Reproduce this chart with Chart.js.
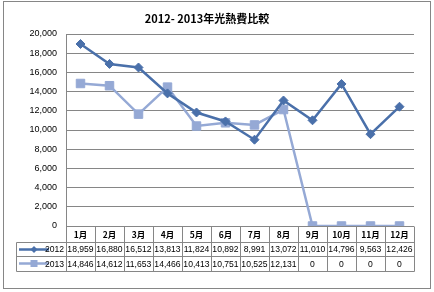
<!DOCTYPE html>
<html>
<head>
<meta charset="utf-8">
<script src="https://cdn.jsdelivr.net/npm/chart.js@4"></script>
<style>
html,body{margin:0;padding:0;background:#fff;}
#wrap{width:434px;height:292px;position:relative;}
</style>
</head>
<body>
<div id="wrap"><canvas id="c" width="434" height="292"></canvas></div>
<script>
const months = ['1月','2月','3月','4月','5月','6月','7月','8月','9月','10月','11月','12月'];
const series2012 = [18959,16880,16512,13813,11824,10892,8991,13072,11010,14796,9563,12426];
const series2013 = [14846,14612,11653,14466,10413,10751,10525,12131,0,0,0,0];
const seriesNames = ['2012','2013'];
const titleText = '2012- 2013年光熱費比較';

const GRID = '#868686';
const C2012 = '#4A70AA';
const C2013 = '#95A9D5';
const numFont = '8.6px "Liberation Sans Narrow", "Liberation Sans", sans-serif';

const tablePlugin = {
  id: 'dataTable',
  afterDraw(chart) {
    const ctx = chart.ctx;
    const ca = chart.chartArea;
    const xs = chart.scales.x;
    const n = months.length;
    const colW = ca.width / n;
    const left = ca.left, right = ca.right;
    const yTop = Math.round(ca.bottom) + 0.5;
    const yH = yTop + 15;
    const yR1 = yH + 14.5;
    const yR2 = yR1 + 14.5;
    const legL = 16.5;
    ctx.save();
    ctx.strokeStyle = GRID;
    ctx.lineWidth = 1;
    ctx.beginPath();
    [yH, yR1, yR2].forEach(y => { ctx.moveTo(legL, Math.round(y)+0.5); ctx.lineTo(right+0.5, Math.round(y)+0.5); });
    for (let i = 0; i <= n; i++) {
      const x = Math.round(left + i * colW) + 0.5;
      ctx.moveTo(x, yTop); ctx.lineTo(x, Math.round(yR2)+0.5);
    }
    ctx.moveTo(legL, Math.round(yH)+0.5); ctx.lineTo(legL, Math.round(yR2)+0.5);
    ctx.stroke();

    ctx.fillStyle = '#000';
    ctx.textAlign = 'center';
    ctx.textBaseline = 'middle';
    ctx.font = 'bold 8.5px "Noto Sans CJK JP", sans-serif';
    months.forEach((m, i) => ctx.fillText(m, xs.getPixelForValue(i), (yTop + yH) / 2 + 0.5));
    ctx.font = numFont;
    const rows = [series2012, series2013];
    const rowY = [(yH + yR1) / 2 + 1, (yR1 + yR2) / 2 + 1];
    rows.forEach((arr, r) => {
      arr.forEach((v, i) => ctx.fillText(v.toLocaleString('en-US'), xs.getPixelForValue(i), rowY[r]));
    });
    // legend keys
    const cols = [C2012, C2013];
    rows.forEach((arr, r) => {
      const y = Math.round(rowY[r] - 1) + 0.5;
      ctx.strokeStyle = cols[r];
      ctx.lineWidth = 2.5;
      ctx.beginPath(); ctx.moveTo(19, y); ctx.lineTo(49, y); ctx.stroke();
      ctx.fillStyle = cols[r];
      ctx.beginPath();
      if (r === 0) { ctx.moveTo(34, y - 3.5); ctx.lineTo(37.5, y); ctx.lineTo(34, y + 3.5); ctx.lineTo(30.5, y); ctx.closePath(); }
      else { ctx.rect(30.5, y - 3.5, 7, 7); }
      ctx.fill();
      ctx.fillStyle = '#000';
      ctx.textAlign = 'right';
      ctx.fillText(seriesNames[r], 64, rowY[r]);
      ctx.textAlign = 'center';
    });
    // outer border
    ctx.strokeStyle = GRID;
    ctx.lineWidth = 1;
    ctx.strokeRect(3.5, 1.5, 427, 287);
    ctx.restore();
  }
};

new Chart(document.getElementById('c'), {
  type: 'line',
  data: {
    labels: months,
    datasets: [
      { label: seriesNames[0], data: series2012, borderColor: C2012, backgroundColor: C2012, borderWidth: 2.5,
        pointStyle: 'rectRot', pointRadius: 4.5, pointBorderWidth: 1, tension: 0 },
      { label: seriesNames[1], data: series2013, borderColor: C2013, backgroundColor: C2013, borderWidth: 2.5,
        pointStyle: 'rect', pointRadius: 6, pointBorderWidth: 1, tension: 0 }
    ]
  },
  options: {
    responsive: false,
    animation: false,
    layout: { padding: { left: 0, right: 20, top: 0, bottom: 0 } },
    plugins: {
      legend: { display: false },
      tooltip: { enabled: false },
      title: { display: true, text: titleText, color: '#000',
        font: { family: '"Noto Sans CJK JP", sans-serif', size: 11, weight: 'bold', lineHeight: 1.2 },
        padding: { top: 12, bottom: 8.8 } }
    },
    scales: {
      x: {
        offset: true,
        ticks: { display: false },
        grid: { display: false, drawTicks: false },
        border: { display: false },
        afterFit(s) { s.height = 66; }
      },
      y: {
        min: 0, max: 20000,
        ticks: { stepSize: 2000, color: '#000', padding: 9,
          font: { family: '"Liberation Sans Narrow", "Liberation Sans", sans-serif', size: 9 } },
        grid: { color: GRID, drawTicks: false },
        border: { display: true, color: GRID },
        afterFit(s) { s.width = 66; }
      }
    }
  },
  plugins: [tablePlugin]
});
</script>
</body>
</html>
